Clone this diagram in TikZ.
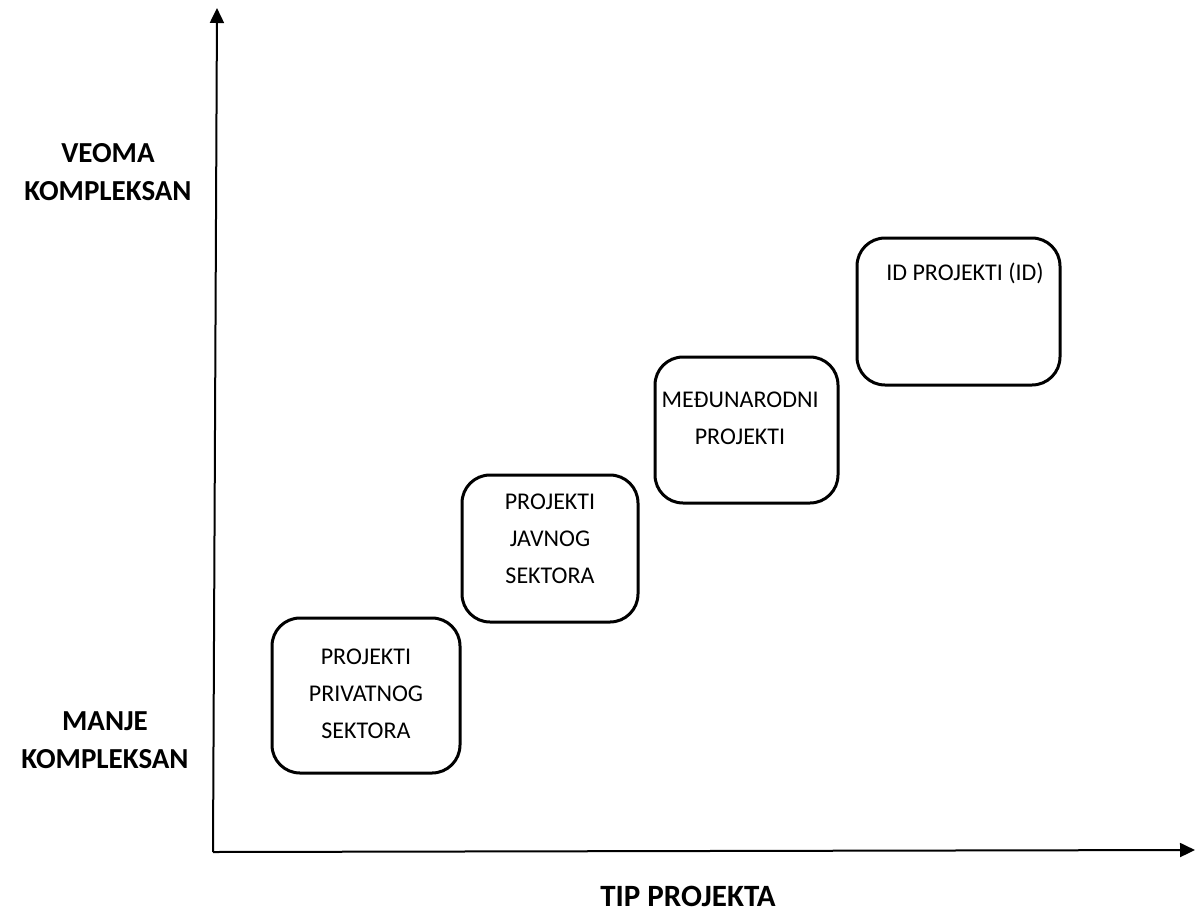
\documentclass[tikz,border=0pt]{standalone}
\usepackage{fontspec}
\setmainfont{Carlito}
\usetikzlibrary{arrows.meta}
\begin{document}
\begin{tikzpicture}[x=1pt,y=-1pt,
  stage/.style={draw=black,line width=3pt,rounded corners=28pt},
  stagetext/.style={font=\fontsize{24}{37}\selectfont,align=center,inner sep=0pt},
  axislabel/.style={font=\fontsize{29}{38}\selectfont\bfseries,align=center,inner sep=0pt},
  axis/.style={line width=2pt,-{Triangle[length=15pt,width=14pt]}}]
\useasboundingbox (0,0) rectangle (1195,914);
% axes
\coordinate (origin) at (213,852);
\coordinate (ytop) at (217,8);
\coordinate (xend) at (1195,850);
\draw[axis] (origin) -- (ytop);
\draw[axis] (origin) -- (xend);
% project boxes
\draw[stage] (272,618) rectangle (460,773);
\draw[stage] (462,475) rectangle (638,622);
\draw[stage] (655,357) rectangle (838,503);
\draw[stage] (857,238) rectangle (1060,385);
\node[stagetext] (privatni) at (366,694) {PROJEKTI\\PRIVATNOG\\SEKTORA};
\node[stagetext] (javni) at (550,539) {PROJEKTI\\JAVNOG\\SEKTORA};
\node[stagetext] (medjunarodni) at (740,418) {MEĐUNARODNI\\PROJEKTI};
\node[stagetext] (id) at (965,273) {ID PROJEKTI (ID)};
% axis labels
\node[axislabel] (veoma) at (108,172) {VEOMA\\KOMPLEKSAN};
\node[axislabel] (manje) at (105,740) {MANJE\\KOMPLEKSAN};
\node[axislabel,font=\fontsize{31}{38}\selectfont\bfseries] (tip) at (688,896) {TIP PROJEKTA};
\end{tikzpicture}
\end{document}
